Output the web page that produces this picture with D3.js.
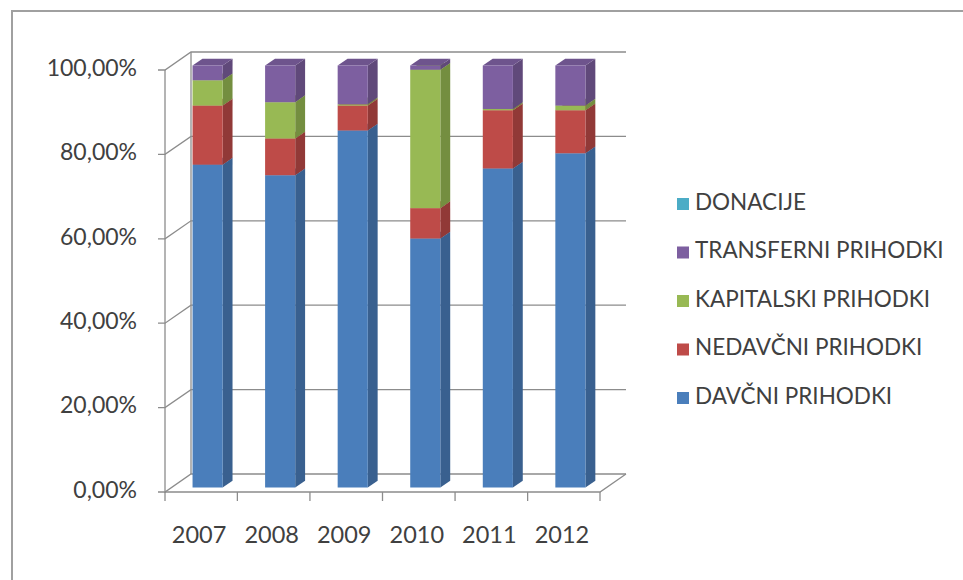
<!DOCTYPE html>
<html>
<head>
<meta charset="utf-8">
<script src="https://cdn.jsdelivr.net/npm/d3@7"></script>
<style>
  body{margin:0;background:#fff;}
  svg text{font-family:Lato,"Open Sans",sans-serif;fill:#404040;}
</style>
</head>
<body>
<svg id="chart" width="963" height="580"></svg>
<script>
// data (percent of total)
var years = ["2007","2008","2009","2010","2011","2012"];
var davcni     = [76.5, 74.0, 84.6, 59.0, 75.6, 79.2];
var nedavcni   = [14.0,  8.7,  5.9,  7.2, 13.8, 10.2];
var kapitalski = [ 6.0,  8.6,  0.3, 32.8,  0.3,  1.1];
var transferni = [ 3.5,  8.7,  9.2,  1.0, 10.3,  9.5];
var donacije   = [ 0.0,  0.0,  0.0,  0.0,  0.0,  0.0];
var yTicks = [0, 20, 40, 60, 80, 100];

// stack order bottom -> top
var series = [
   {name:"DAVČNI PRIHODKI",     values:davcni,     color:"#4a7ebb"},
   {name:"NEDAVČNI PRIHODKI",   values:nedavcni,   color:"#be4b48"},
   {name:"KAPITALSKI PRIHODKI", values:kapitalski, color:"#98b954"},
   {name:"TRANSFERNI PRIHODKI", values:transferni, color:"#7d5fa0"},
   {name:"DONACIJE",            values:donacije,   color:"#4bacc6"}
];

var svg = d3.select("#chart");

// frame around the chart area
svg.append("rect")
   .attr("x",12).attr("y",11).attr("width",970).attr("height",590)
   .attr("fill","none").attr("stroke","#a0a0a0").attr("stroke-width",2);

// 3d box: front plane x0..x1, y0..y1, depth vector (dx,dy)
var x0 = 165, x1 = 600, yBase = 492, yTop = 70;
var dx = 26, dy = -18;
var f0 = 0.25, f1 = 0.63;     // bar depth, as part of the box depth

var x = d3.scaleBand().domain(years).range([x0, x1]).paddingInner(0.585).paddingOuter(0.29);
var y = d3.scaleLinear().domain([0,100]).range([yBase, yTop]);

var pt = function(px,py){ return px + "," + py; };
var grid = svg.append("g").attr("fill","none").attr("stroke","#8c8c8c").attr("stroke-width",1.3);

// back wall gridlines + side wall diagonals
yTicks.forEach(function(t){
   var yy = y(t);
   grid.append("path")
      .attr("d","M"+pt(x0-7,yy)+"L"+pt(x0,yy)+"L"+pt(x0+dx,yy+dy)+"L"+pt(x1+dx,yy+dy));
});
// back wall left edge and front axis
grid.append("line").attr("x1",x0+dx).attr("y1",y(0)+dy).attr("x2",x0+dx).attr("y2",y(100)+dy);
grid.append("line").attr("x1",x0).attr("y1",y(0)+1).attr("x2",x0).attr("y2",y(100));
// floor front edge, right edge
grid.append("path").attr("d","M"+pt(x0,yBase)+"L"+pt(x1,yBase)+"L"+pt(x1+dx,yBase+dy));
// category ticks
var catEdges = years.map(function(d){ return x(d) - x.step()*x.paddingInner()/2; });
catEdges.push(x1);
catEdges[0] = x0;
catEdges.forEach(function(cx){
   grid.append("line").attr("x1",cx).attr("y1",yBase).attr("x2",cx).attr("y2",yBase+9);
});

// bars
var bars = svg.append("g");
years.forEach(function(yr, i){
   var acc = 0;
   series.forEach(function(s){
      var v = s.values[i];
      if(v <= 0) return;
      var lo = acc, hi = acc + v;
      acc = hi;
      var bx = x(yr) + dx*f0, bw = x.bandwidth();
      var ox = dx*f0, oy = dy*f0;
      var ddx = dx*(f1-f0), ddy = dy*(f1-f0);
      var yl = y(lo) + oy, yh = y(hi) + oy;
      var c = d3.rgb(s.color);
      // right side
      bars.append("path")
         .attr("d","M"+pt(bx+bw,yl)+"L"+pt(bx+bw+ddx,yl+ddy)+"L"+pt(bx+bw+ddx,yh+ddy)+"L"+pt(bx+bw,yh)+"Z")
         .attr("fill", c.darker(0.75));
      // top
      bars.append("path")
         .attr("d","M"+pt(bx,yh)+"L"+pt(bx+bw,yh)+"L"+pt(bx+bw+ddx,yh+ddy)+"L"+pt(bx+ddx,yh+ddy)+"Z")
         .attr("fill", c.darker(0.35));
      // front
      bars.append("rect")
         .attr("x",bx).attr("y",yh).attr("width",bw).attr("height",yl-yh)
         .attr("fill", s.color);
   });
});

// y axis labels
svg.append("g").selectAll("text").data(yTicks).enter().append("text")
   .attr("x",137).attr("y",function(d){ return y(d); })
   .attr("text-anchor","end").attr("dominant-baseline","middle")
   .attr("font-size",23)
   .text(function(d){ return d3.format(".2f")(d).replace(".",",") + "%"; });

// x axis labels
svg.append("g").selectAll("text").data(years).enter().append("text")
   .attr("x",function(d){ return x(d) + x.bandwidth()/2 - 2; })
   .attr("y",537)
   .attr("text-anchor","middle").attr("dominant-baseline","middle")
   .attr("font-size",23.5)
   .text(function(d){ return d; });

// legend, top to bottom in reverse stack order
var legend = svg.append("g").selectAll("g").data(series.slice().reverse()).enter().append("g")
   .attr("transform",function(d,i){ return "translate(677,"+(204 + i*48.5)+")"; });
legend.append("rect").attr("x",0).attr("y",-6).attr("width",12).attr("height",12)
   .attr("fill",function(d){ return d.color; });
legend.append("text").attr("x",18).attr("y",0).attr("dominant-baseline","middle")
   .attr("font-size",22.5)
   .text(function(d){ return d.name; });
</script>
</body>
</html>
